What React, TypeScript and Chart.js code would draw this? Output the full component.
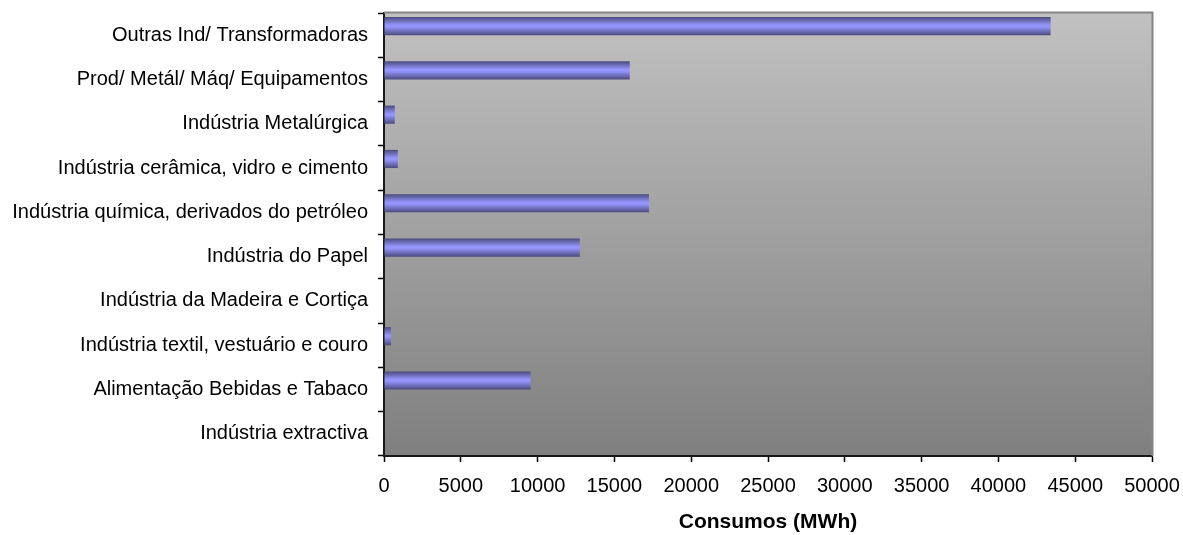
import React, { useEffect, useRef } from "react";
import { Chart, registerables } from "chart.js";

Chart.register(...registerables);

// Sectors, listed from the top of the chart to the bottom
const sectors = [
  "Outras Ind/ Transformadoras",
  "Prod/ Metál/ Máq/ Equipamentos",
  "Indústria Metalúrgica",
  "Indústria cerâmica, vidro e cimento",
  "Indústria química, derivados do petróleo",
  "Indústria do Papel",
  "Indústria da Madeira e Cortiça",
  "Indústria textil, vestuário e couro",
  "Alimentação Bebidas e Tabaco",
  "Indústria extractiva",
];

// Electricity consumption per sector (MWh)
const consumos = [43400, 16000, 700, 900, 17250, 12750, 0, 450, 9550, 0];

// Empty companion series (keeps the bars in the upper slot of each row)
const emptySeries = [null, null, null, null, null, null, null, null, null, null];

// Value axis range
const axisMin = 0;
const axisMax = 50000;
const axisStep = 5000;

const axisTitle = "Consumos (MWh)";

const FONT = "'Liberation Sans', Arial, sans-serif";

// Grey vertical gradient behind the plot, plus the thin frame on top and right
const plotBackground = {
  id: "plotBackground",
  beforeDraw(chart: any) {
    const { ctx, chartArea: a } = chart;
    const g = ctx.createLinearGradient(0, a.top, 0, a.bottom);
    g.addColorStop(0, "#c1c1c1");
    g.addColorStop(1, "#7f7f7f");
    ctx.save();
    ctx.fillStyle = g;
    ctx.fillRect(a.left, a.top, a.right - a.left, a.bottom - a.top);
    ctx.restore();
  },
  afterDraw(chart: any) {
    const { ctx, chartArea: a } = chart;
    ctx.save();
    ctx.strokeStyle = "#858585";
    ctx.lineWidth = 2;
    ctx.beginPath();
    ctx.moveTo(a.left, a.top - 0.5);
    ctx.lineTo(a.right + 0.5, a.top - 0.5);
    ctx.lineTo(a.right + 0.5, a.bottom);
    ctx.stroke();
    ctx.restore();
  },
};

// Cylinder-like shading across each bar's thickness
const barShading = {
  id: "barShading",
  beforeDatasetsDraw(chart: any) {
    const { ctx } = chart;
    chart.data.datasets.forEach((_ds: any, i: number) => {
      const meta = chart.getDatasetMeta(i);
      meta.data.forEach((el: any) => {
        if (!el || el.skip || !isFinite(el.y) || !isFinite(el.height)) return;
        const h = el.height;
        const y0 = el.y - h / 2;
        const g = ctx.createLinearGradient(0, y0, 0, y0 + h);
        g.addColorStop(0, "#4b4b7d");
        g.addColorStop(0.45, "#9696ff");
        g.addColorStop(0.55, "#9393fb");
        g.addColorStop(1, "#4b4b7d");
        el.options = Object.assign({}, el.options, { backgroundColor: g });
      });
    });
  },
};

export default function App() {
  const canvasRef = useRef<HTMLCanvasElement | null>(null);

  useEffect(() => {
    if (!canvasRef.current) return;
    const chart = new Chart(canvasRef.current, {
      type: "bar",
      data: {
        labels: sectors,
        datasets: [
          {
            label: "Consumos",
            data: consumos,
            backgroundColor: "#9999ff",
            borderWidth: 0,
            categoryPercentage: 0.82,
            barPercentage: 1,
          },
          {
            label: "",
            data: emptySeries as any,
            backgroundColor: "#9999ff",
            borderWidth: 0,
            categoryPercentage: 0.82,
            barPercentage: 1,
          },
        ],
      },
      options: {
        indexAxis: "y",
        responsive: false,
        animation: false,
        devicePixelRatio: 1,
        layout: { padding: { top: 13, right: 31, left: 0, bottom: 0 } },
        plugins: {
          legend: { display: false },
          tooltip: { enabled: false },
        },
        scales: {
          x: {
            type: "linear",
            min: axisMin,
            max: axisMax,
            afterFit(scale: any) {
              scale.height = 79;
              scale.paddingLeft = 0;
              scale.paddingRight = 0;
            },
            ticks: {
              stepSize: axisStep,
              color: "#000",
              font: { family: FONT, size: 20 },
              padding: 12,
              maxRotation: 0,
              callback: (v: any) => String(v),
            },
            grid: {
              drawOnChartArea: false,
              drawTicks: true,
              tickLength: 6,
              tickColor: "#000",
              tickWidth: 1.5,
            },
            border: { display: true, color: "#1a1a1a", width: 2 },
            title: {
              display: true,
              text: axisTitle,
              color: "#000",
              font: { family: FONT, size: 21, weight: "bold" },
              padding: { top: 0, bottom: 0 },
            },
          },
          y: {
            type: "category",
            afterFit(scale: any) {
              scale.width = 384;
              scale.paddingTop = 0;
              scale.paddingBottom = 0;
            },
            ticks: {
              color: "#000",
              font: { family: FONT, size: 20 },
              padding: 10,
              autoSkip: false,
            },
            grid: {
              offset: true,
              drawOnChartArea: false,
              drawTicks: true,
              tickLength: 6,
              tickColor: "#000",
              tickWidth: 1.5,
            },
            border: { display: true, color: "#1a1a1a", width: 2 },
          },
        },
      },
      plugins: [plotBackground, barShading],
    } as any);
    return () => chart.destroy();
  }, []);

  return (
    <div
      style={{
        position: "fixed",
        left: 0,
        top: 0,
        width: 1183,
        height: 535,
        background: "#fff",
      }}
    >
      <canvas
        ref={canvasRef}
        width={1183}
        height={535}
        style={{ display: "block", width: 1183, height: 535 }}
      />
    </div>
  );
}
